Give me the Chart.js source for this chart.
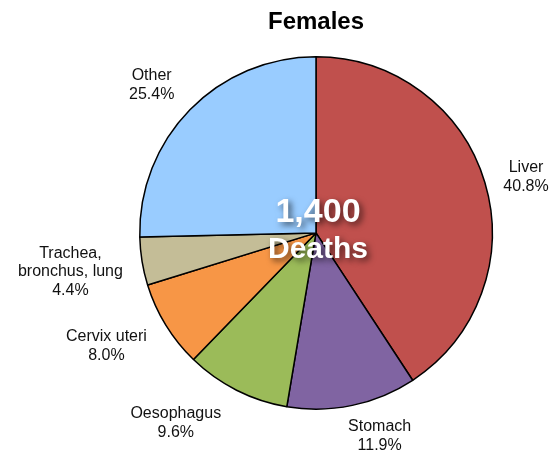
<!DOCTYPE html>
<html lang="en">
<head>
    <meta charset="UTF-8">
    <title>Females</title>
    <script src="https://cdn.jsdelivr.net/npm/chart.js"></script>
    <style>
        html, body {
            margin: 0;
            padding: 0;
            background: #fff;
        }
        #wrap {
            width: 557px;
            height: 451px;
        }
    </style>
</head>
<body>
    <div id="wrap"><canvas id="pieChart"></canvas></div>

    <script>
        const causes = ['Liver', 'Stomach', 'Oesophagus', 'Cervix uteri', 'Trachea, bronchus, lung', 'Other'];
        const shares = [40.8, 11.9, 9.6, 8.0, 4.4, 25.4];
        const labelLines = [['Liver'], ['Stomach'], ['Oesophagus'], ['Cervix uteri'], ['Trachea,', 'bronchus, lung'], ['Other']];
        const totalDeaths = '1,400';
        const totalCaption = 'Deaths';

        const sliceColors = ['#C0504D', '#8064A2', '#9BBB59', '#F79646', '#C4BD97', '#99CCFF'];
        const FONT = '"Liberation Sans", Arial, Helvetica, sans-serif';

        // outside labels: placed along each slice's mid angle, then nudged a little
        const nudges = [[6, 4], [18, -1], [-34, 4], [-13, 4], [-6, 4], [-12, -2]];

        const outsideLabels = {
            id: 'outsideLabels',
            afterDatasetsDraw(chart) {
                const ctx = chart.ctx;
                const arcs = chart.getDatasetMeta(0).data;
                ctx.save();
                ctx.font = '16px ' + FONT;
                ctx.fillStyle = '#111';
                ctx.textAlign = 'center';
                ctx.textBaseline = 'middle';
                const lh = 18.5;
                arcs.forEach((arc, i) => {
                    const lines = labelLines[i].concat([shares[i].toFixed(1) + '%']);
                    const mid = (arc.startAngle + arc.endAngle) / 2;
                    const ux = Math.cos(mid), uy = Math.sin(mid);
                    const hw = Math.max(...lines.map(l => ctx.measureText(l).width)) / 2;
                    const hh = lines.length * lh / 2;
                    const d = arc.outerRadius + 14;
                    const cx = arc.x + ux * d + ux * hw + nudges[i][0];
                    const cy = arc.y + uy * d + uy * hh + nudges[i][1];
                    lines.forEach((l, k) => {
                        ctx.fillText(l, cx, cy - hh + lh / 2 + k * lh);
                    });
                });
                ctx.restore();
            }
        };

        const centerText = {
            id: 'centerText',
            afterDatasetsDraw(chart) {
                const ctx = chart.ctx;
                const arc = chart.getDatasetMeta(0).data[0];
                ctx.save();
                ctx.textAlign = 'center';
                ctx.textBaseline = 'middle';
                ctx.fillStyle = '#fff';
                ctx.shadowColor = 'rgba(0,0,0,0.6)';
                ctx.shadowBlur = 6;
                ctx.shadowOffsetX = 3;
                ctx.shadowOffsetY = 3;
                ctx.font = 'bold 34px ' + FONT;
                ctx.fillText(totalDeaths, arc.x + 2, arc.y - 20);
                ctx.font = 'bold 30px ' + FONT;
                ctx.fillText(totalCaption, arc.x + 2, arc.y + 17);
                ctx.restore();
            }
        };

        const ctx = document.getElementById('pieChart').getContext('2d');
        new Chart(ctx, {
            type: 'pie',
            data: {
                labels: causes,
                datasets: [{
                    data: shares,
                    backgroundColor: sliceColors,
                    borderColor: '#000',
                    borderWidth: 1.5
                }]
            },
            options: {
                responsive: true,
                maintainAspectRatio: false,
                animation: false,
                layout: {
                    padding: { top: 0, bottom: 41, left: 139, right: 64 }
                },
                plugins: {
                    legend: { display: false },
                    tooltip: { enabled: false },
                    title: {
                        display: true,
                        text: 'Females',
                        color: '#000',
                        font: { family: FONT, size: 24, weight: 'bold' },
                        padding: { top: 8, bottom: 19 }
                    }
                }
            },
            plugins: [outsideLabels, centerText]
        });
    </script>
</body>
</html>
